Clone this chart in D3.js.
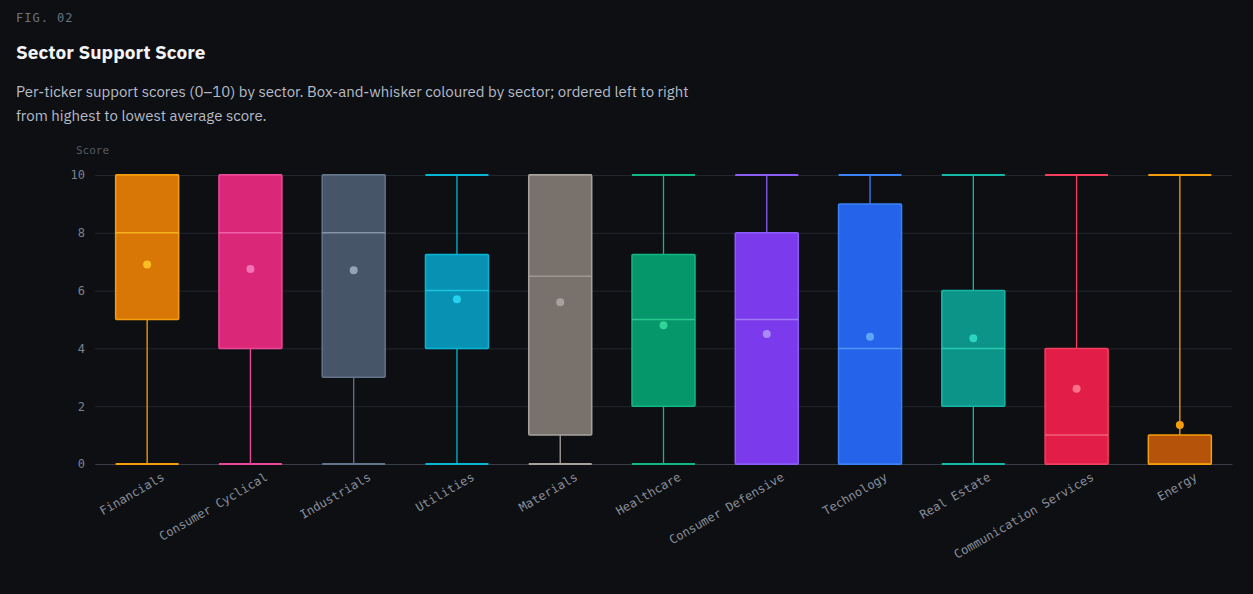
<!DOCTYPE html>
<html><head><meta charset="utf-8">
<script src="https://cdn.jsdelivr.net/npm/d3@7"></script>
<style>
body{margin:0;background:#0d0f13;width:1253px;height:594px;overflow:hidden;font-family:"IBM Plex Sans","Inter","Noto Sans",sans-serif}
.fig{position:absolute;left:16px;top:11px;font:12px "DejaVu Sans Mono",monospace;color:#6b7280;letter-spacing:1px}
h2{position:absolute;left:16px;top:40px;margin:0;font-size:19px;font-weight:700;color:#f3f4f6}
p{position:absolute;left:16px;top:80px;margin:0;width:680px;font-size:15px;line-height:24px;color:#b6bcc7}
svg{position:absolute;left:0;top:0}
</style></head><body>
<div class="fig">FIG. 02</div>
<h2>Sector Support Score</h2>
<p>Per-ticker support scores (0–10) by sector. Box-and-whisker coloured by sector; ordered left to right from highest to lowest average score.</p>
<svg id="chart" width="1253" height="594"></svg>
<script>
const sectors = ['Financials','Consumer Cyclical','Industrials','Utilities','Materials','Healthcare','Consumer Defensive','Technology','Real Estate','Communication Services','Energy'];
const mins    = [0,0,0,0,0,0,0,0,0,0,0];
const q1s     = [5,4,3,4,1,2,0,0,2,0,0];
const medians = [8,8,8,6,6.5,5,5,4,4,1,0];
const q3s     = [10,10,10,7.25,10,7.25,8,9,6,4,1];
const maxs    = [10,10,10,10,10,10,10,10,10,10,10];
const means   = [6.9,6.75,6.7,5.7,5.6,4.8,4.5,4.4,4.35,2.6,1.35];
const fills   = ['#d97706','#db2777','#475569','#0891b2','#78716c','#059669','#7c3aed','#2563eb','#0d9488','#e11d48','#b45309'];
const strokes = ['#f59e0b','#ec4899','#64748b','#06b6d4','#a8a29e','#10b981','#8b5cf6','#3b82f6','#14b8a6','#f43f5e','#f59e0b'];
const dots    = ['#fbbf24','#f472b6','#94a3b8','#22d3ee','#a8a29e','#34d399','#a78bfa','#60a5fa','#2dd4bf','#fb7185','#f59e0b'];
const yTicks  = [0,2,4,6,8,10];

const svg = d3.select('#chart');
const x = d3.scaleBand().domain(sectors).range([95,1232]).paddingInner(0.39).paddingOuter(0.2);
const y = d3.scaleLinear().domain([0,10]).range([464,175]);

const ya = svg.append('g').attr('transform','translate(95,0)')
  .call(d3.axisLeft(y).tickValues(yTicks).tickSize(-1137).tickPadding(10));
ya.select('.domain').remove();
ya.selectAll('line').attr('stroke','#23262d');
ya.selectAll('text').attr('fill','#7b8190').attr('font-family','"DejaVu Sans Mono",monospace').attr('font-size',12);
svg.append('text').attr('x',76).attr('y',154).attr('fill','#555a65')
  .attr('font-family','"DejaVu Sans Mono",monospace').attr('font-size',11).text('Score');

const xa = svg.append('g').attr('transform','translate(0,464)')
  .call(d3.axisBottom(x).tickSize(0).tickPadding(10));
xa.select('.domain').attr('stroke','#3a3e46');
xa.selectAll('text').attr('fill','#8b909b').attr('font-family','"DejaVu Sans Mono",monospace').attr('font-size',12)
  .attr('text-anchor','end').attr('transform','rotate(-30) translate(8,4)');

sectors.forEach((s,i)=>{
  const g = svg.append('g');
  const cx = x(s)+x.bandwidth()/2, w = x.bandwidth();
  g.append('line').attr('x1',cx).attr('x2',cx).attr('y1',y(maxs[i])).attr('y2',y(mins[i])).attr('stroke',strokes[i]).attr('stroke-width',1.3);
  [mins[i],maxs[i]].forEach(v=>g.append('line').attr('x1',x(s)).attr('x2',x(s)+w).attr('y1',y(v)).attr('y2',y(v)).attr('stroke',strokes[i]).attr('stroke-width',2));
  g.append('rect').attr('x',x(s)).attr('width',w).attr('y',y(q3s[i])).attr('height',y(q1s[i])-y(q3s[i]))
    .attr('fill',fills[i]).attr('stroke',strokes[i]).attr('stroke-width',1.5).attr('rx',1);
  g.append('line').attr('x1',x(s)).attr('x2',x(s)+w).attr('y1',y(medians[i])).attr('y2',y(medians[i])).attr('stroke',dots[i]).attr('stroke-opacity',0.8).attr('stroke-width',1.5);
  g.append('circle').attr('cx',cx).attr('cy',y(means[i])).attr('r',4).attr('fill',dots[i]);
});
</script></body></html>
